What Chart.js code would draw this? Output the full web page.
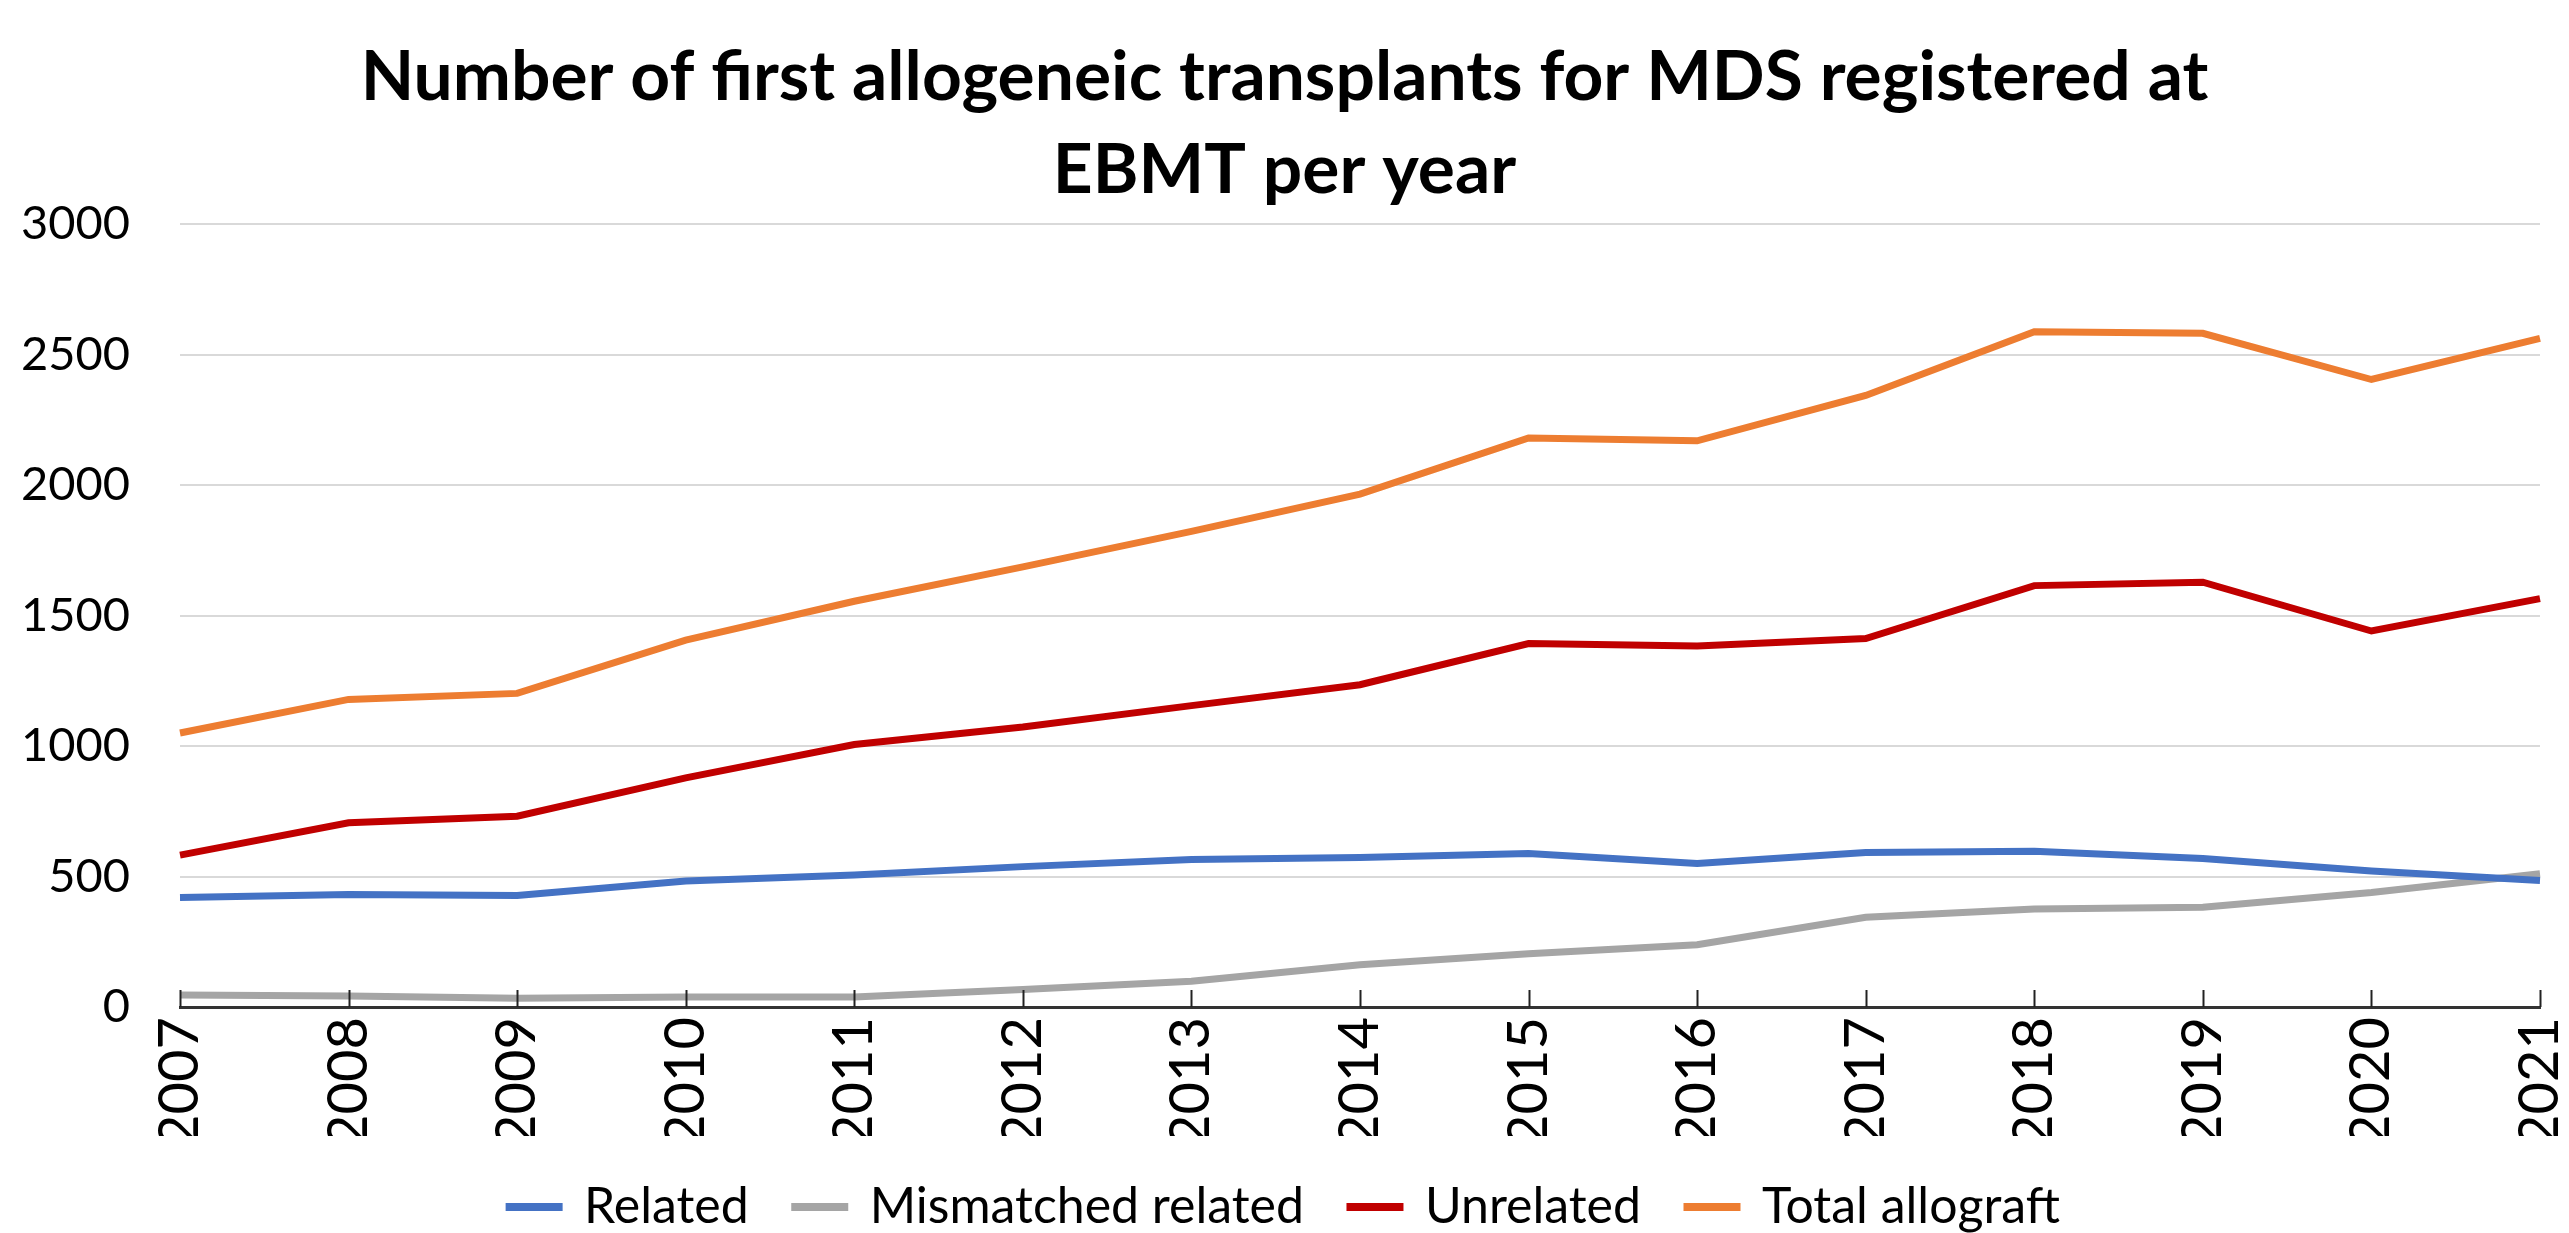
<!DOCTYPE html>
<html>
<head>
<meta charset="utf-8">
<script src="https://cdn.jsdelivr.net/npm/chart.js@4.4.1/dist/chart.umd.min.js"></script>
<style>
  html, body { margin: 0; padding: 0; background: #fff; }
  #wrap { width: 2569px; height: 1233px; }
</style>
</head>
<body>
<div id="wrap"><canvas id="lineChart"></canvas></div>
<script>
const years = ['2007', '2008', '2009', '2010', '2011', '2012', '2013', '2014',
               '2015', '2016', '2017', '2018', '2019', '2020', '2021'];
const related    = [420, 431, 427, 483, 506, 538, 565, 573, 588, 550, 592, 597, 569, 521, 485];
const mismatched = [46, 42, 34, 38, 38, 67, 99, 162, 204, 239, 344, 376, 382, 439, 511];
const unrelated  = [582, 706, 731, 878, 1006, 1073, 1155, 1235, 1393, 1384, 1412, 1615, 1628, 1441, 1565];
const total      = [1050, 1179, 1202, 1406, 1555, 1687, 1823, 1966, 2181, 2170, 2344, 2588, 2582, 2405, 2563];
const yTicks = [0, 500, 1000, 1500, 2000, 2500, 3000];

// Excel style tick marks pointing up into the plot
const innerTicks = {
    id: 'innerTicks',
    afterDraw(chart) {
        const x = chart.scales.x;
        const y0 = chart.scales.y.getPixelForValue(0);
        const ctx = chart.ctx;
        ctx.save();
        ctx.strokeStyle = '#222';
        ctx.lineWidth = 2;
        for (let i = 0; i < years.length; i++) {
            const px = Math.round(x.getPixelForTick(i)) + 0.5;
            ctx.beginPath();
            ctx.moveTo(px, y0);
            ctx.lineTo(px, y0 - 17);
            ctx.stroke();
        }
        ctx.restore();
    }
};

function series(label, data, color) {
    return {
        label: label,
        data: data,
        borderColor: color,
        backgroundColor: color,
        borderWidth: 7,
        pointRadius: 0,
        tension: 0,
        fill: false
    };
}

new Chart(document.getElementById('lineChart').getContext('2d'), {
    type: 'line',
    data: {
        labels: years,
        datasets: [
            series('Related', related, '#4472C4'),
            series('Mismatched related', mismatched, '#A5A5A5'),
            series('Unrelated', unrelated, '#C00000'),
            series('Total allograft', total, '#ED7D31')
        ]
    },
    options: {
        responsive: true,
        maintainAspectRatio: false,
        animation: false,
        layout: { padding: { left: 0, right: 0, top: 0, bottom: -9 } },
        plugins: {
            title: {
                display: true,
                text: ['Number of first allogeneic transplants for MDS registered at', 'EBMT per year'],
                color: '#000',
                font: { family: 'Lato', size: 69.5, weight: 'bold', lineHeight: 1.34 },
                padding: { top: 31, bottom: 7 }
            },
            legend: {
                position: 'bottom',
                labels: {
                    color: '#000',
                    font: { family: 'Lato', size: 50 },
                    boxWidth: 50,
                    boxHeight: 1,
                    padding: 46
                }
            },
            tooltip: { enabled: false }
        },
        scales: {
            x: {
                offset: false,
                grid: { display: false, drawTicks: false },
                border: { display: true, color: '#333', width: 3 },
                ticks: {
                    color: '#000',
                    font: { family: 'Lato', size: 56 },
                    minRotation: 90,
                    maxRotation: 90,
                    padding: 10
                },
                afterFit: (scale) => {
                    scale.height = 129;
                    scale.paddingRight = 29;
                }
            },
            y: {
                min: 0,
                max: 3000,
                afterBuildTicks: (scale) => { scale.ticks = yTicks.map(v => ({ value: v })); },
                afterFit: (scale) => { scale.width = 180; },
                grid: { color: '#d9d9d9', lineWidth: 2, drawTicks: false },
                border: { display: false },
                ticks: {
                    color: '#000',
                    font: { family: 'Lato', size: 47 },
                    padding: 50,
                    callback: (v) => String(v)
                }
            }
        }
    },
    plugins: [innerTicks]
});
</script>
</body>
</html>
